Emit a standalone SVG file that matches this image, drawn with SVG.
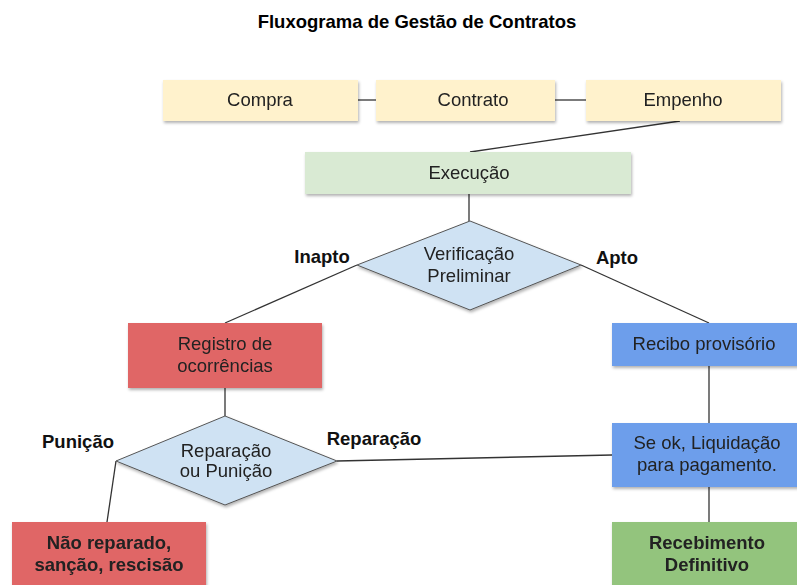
<svg xmlns="http://www.w3.org/2000/svg" width="797" height="585" viewBox="0 0 797 585">
<defs>
<filter id="sh" x="-10%" y="-10%" width="130%" height="140%">
<feDropShadow dx="1" dy="2" stdDeviation="1.5" flood-color="#000" flood-opacity="0.3"/>
</filter>
<style>
text{font-family:"Liberation Sans",Arial,sans-serif;font-size:18.5px;fill:#222;text-anchor:middle;dominant-baseline:middle}
.b{font-weight:bold}
.t{font-size:18.5px;font-weight:bold;fill:#000}
.lbl{font-weight:bold;font-size:18.5px;fill:#111}
.node{filter:url(#sh)}
.conn line{stroke:#333;stroke-width:1.3}
</style>
</defs>
<rect width="797" height="585" fill="#fff"/>
<text class="t" x="417" y="23">Fluxograma de Gestão de Contratos</text>
<g class="conn">
<line x1="358" y1="100" x2="376" y2="100"/>
<line x1="555" y1="100" x2="586" y2="100"/>
<line x1="680" y1="121" x2="470" y2="152"/>
<line x1="469" y1="194" x2="469" y2="221"/>
<line x1="357" y1="265" x2="225" y2="323"/>
<line x1="581" y1="265" x2="709" y2="323"/>
<line x1="709" y1="366" x2="709" y2="423"/>
<line x1="709" y1="487" x2="709" y2="522"/>
<line x1="225" y1="388" x2="225" y2="416"/>
<line x1="337" y1="461" x2="612" y2="455"/>
<line x1="116" y1="461" x2="107" y2="522"/>
</g>
<g id="compra" class="node"><rect x="163" y="80" width="195" height="41" fill="#fff2cc"/><text x="260" y="101">Compra</text></g>
<g id="contrato" class="node"><rect x="376" y="80" width="179" height="41" fill="#fff2cc"/><text x="473" y="101">Contrato</text></g>
<g id="empenho" class="node"><rect x="586" y="80" width="195" height="41" fill="#fff2cc"/><text x="683" y="101">Empenho</text></g>
<g id="execucao" class="node"><rect x="305" y="152" width="326" height="42" fill="#d9ead3"/><text x="469" y="174">Execução</text></g>
<g id="verificacao" class="node"><polygon points="470,221 581,265 470,310 357,265" fill="#cfe2f3" stroke="#555" stroke-width="1"/><text x="469" y="255">Verificação</text><text x="469" y="277">Preliminar</text></g>
<g id="registro" class="node"><rect x="128" y="323" width="194" height="65" fill="#e06666"/><text x="225" y="345">Registro de</text><text x="225" y="367">ocorrências</text></g>
<g id="recibo" class="node"><rect x="612" y="323" width="190" height="43" fill="#6d9eeb"/><text x="704" y="345">Recibo provisório</text></g>
<g id="reparacao" class="node"><polygon points="225,416 337,461 225,505 116,461" fill="#cfe2f3" stroke="#555" stroke-width="1"/><text x="226" y="452">Reparação</text><text x="226" y="472">ou Punição</text></g>
<g id="seok" class="node"><rect x="612" y="423" width="190" height="64" fill="#6d9eeb"/><text x="707" y="444">Se ok, Liquidação</text><text x="707" y="466">para pagamento.</text></g>
<g id="naoreparado" class="node"><rect x="12" y="522" width="194" height="70" fill="#e06666"/><text class="b" x="109" y="544">Não reparado,</text><text class="b" x="109" y="566">sanção, rescisão</text></g>
<g id="recebimento" class="node"><rect x="612" y="522" width="190" height="70" fill="#93c47d"/><text class="b" x="707" y="544">Recebimento</text><text class="b" x="707" y="566">Definitivo</text></g>
<g id="labels">
<text class="lbl" x="322" y="258">Inapto</text>
<text class="lbl" x="617" y="259">Apto</text>
<text class="lbl" x="78" y="443">Punição</text>
<text class="lbl" x="374" y="440">Reparação</text>
</g>
</svg>
